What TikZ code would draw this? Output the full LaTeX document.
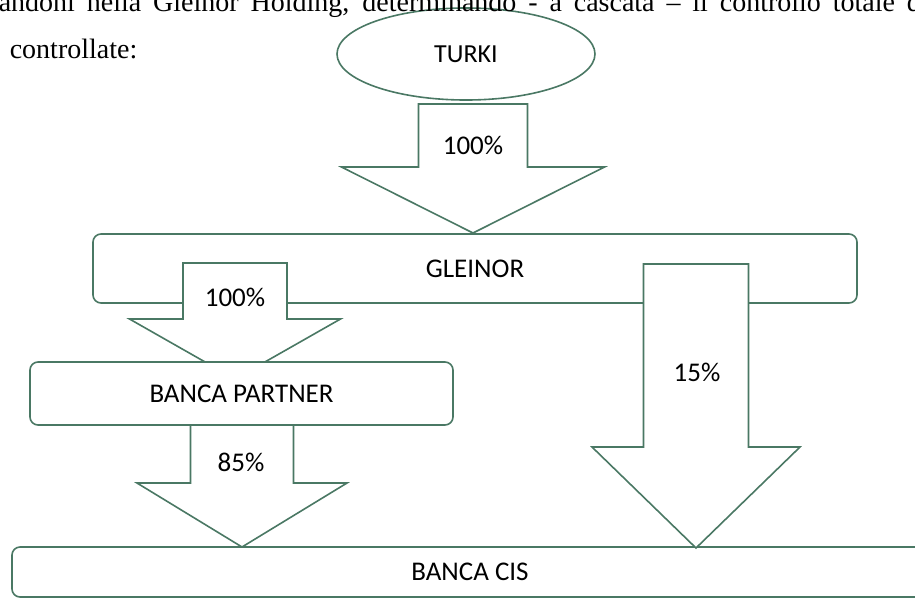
\documentclass[tikz,border=0pt]{standalone}
\usepackage{fontspec}
\setmainfont{Liberation Serif}
\newfontfamily\calibri{Carlito}
\usetikzlibrary{shapes.geometric, positioning, calc}

\definecolor{boxgreen}{RGB}{74,120,100}

% block arrow pointing down: tip, length, head length, shaft half width, head half width
\newcommand{\blockdown}[5]{%
  \draw[arrowbox] (#1) -- ++(#5,-#3) -- ++(#4-#5,0) -- ++(0,#3-#2) -- ++(-2*#4,0)
    -- ++(0,#2-#3) -- ++(#4-#5,0) -- cycle;}

\begin{document}
\begin{tikzpicture}[x=1pt, y=-1pt, line width=1.6pt,
    company/.style={draw=boxgreen, fill=white, rounded corners=8pt, inner sep=0pt,
      font=\calibri\fontsize{27}{31}\selectfont},
    share/.style={font=\calibri\fontsize{27}{31}\selectfont},
    arrowbox/.style={draw=boxgreen, fill=white, line join=miter},
    para/.style={anchor=base west, inner sep=0pt, font=\fontsize{28}{34}\selectfont}]

        \useasboundingbox (0,0) rectangle (915,598);

        % Companies
        \node[company, minimum width=764pt, minimum height=69pt] (gleinor) at (475,268.5) {GLEINOR};
        \node[company, minimum width=916pt, minimum height=50pt] (cis) at (470,572) {BANCA CIS};
        \node[ellipse, draw=boxgreen, fill=white, inner sep=0pt, minimum width=258pt, minimum height=92pt,
              font=\calibri\fontsize{26}{30}\selectfont] (turki) at (466,54) {TURKI};

        % Text above
        \node[para] (line1) at (-2,11) {\makebox[922pt][s]{andoni nella Gleinor Holding, determinando - a cascata – il controllo totale d}};
        \node[para] (line2) at (9,58) {controllate:};

        % Arrow tips
        \coordinate (tip1) at (473,233);
        \coordinate (tip2) at (235,379);
        \coordinate (tip3) at (696,548);
        \coordinate (tip4) at (242,547);

        % Shares
        \blockdown{tip1}{129}{66}{54.5}{131.5}
        \blockdown{tip3}{284}{101}{52.5}{104}
        \blockdown{tip2}{116}{60}{52}{105.5}

        \node[company, minimum width=423pt, minimum height=63pt] (partner) at (241.5,393.5) {BANCA PARTNER};

        \blockdown{tip4}{122}{64}{51.5}{105}

        \node[share] (s1) at (473,145) {100\%};
        \node[share] (s2) at (235,297) {100\%};
        \node[share] (s3) at (697,372) {15\%};
        \node[share] (s4) at (241,462) {85\%};

\end{tikzpicture}
\end{document}
